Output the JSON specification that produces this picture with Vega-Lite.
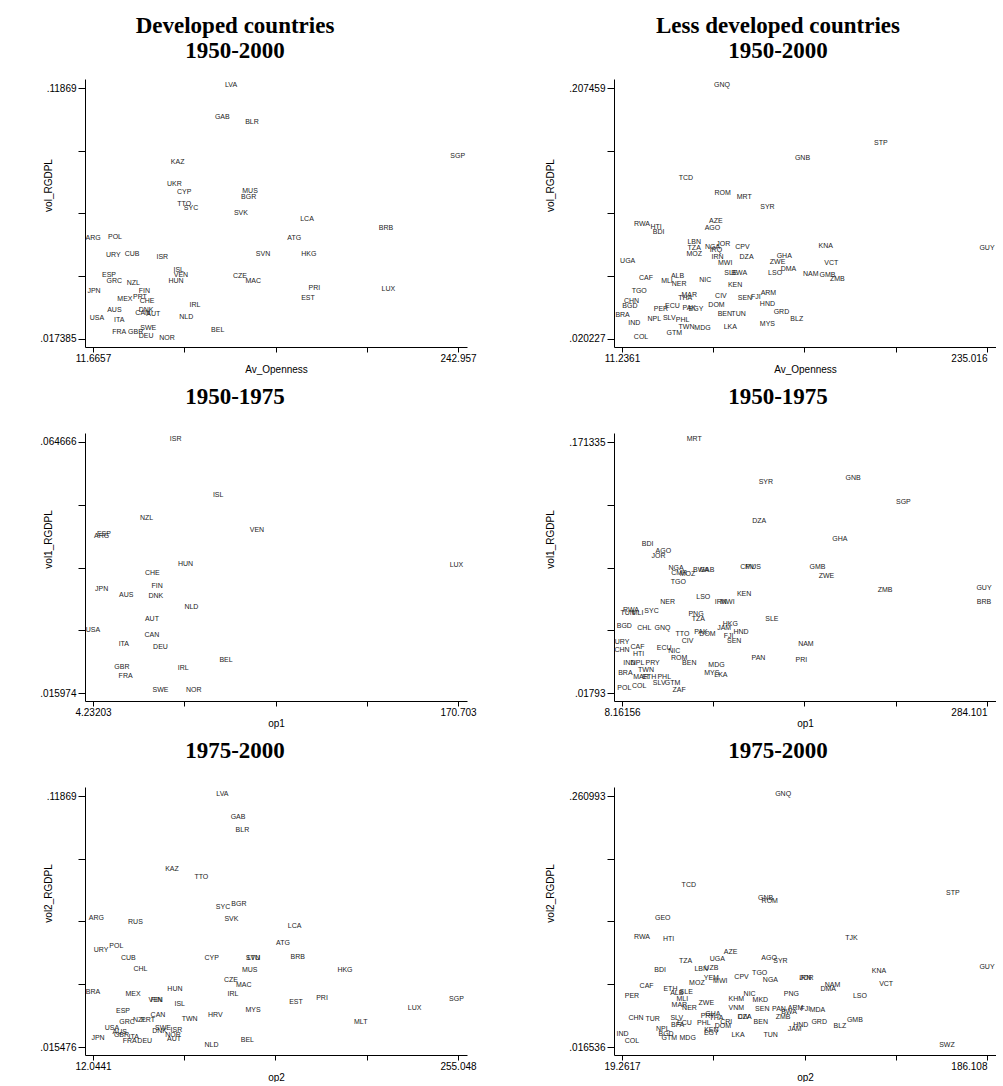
{
"$schema": "https://vega.github.io/schema/vega-lite/v6.json",
"background": "white",
"padding": {"left": 39, "top": 15, "right": 0, "bottom": 0},
"bounds": "flush",
"columns": 2,
"spacing": {"row": 86, "column": 147},
"config": {
  "view": {"stroke": null},
  "font": "Liberation Sans",
  "axis": {"domainColor": "#000", "tickColor": "#000", "labelColor": "#000", "titleColor": "#000", "labelFont": "Liberation Sans", "titleFont": "Liberation Sans", "labelFontSize": 10, "titleFontSize": 10, "titleFontWeight": "normal", "grid": false, "labelOverlap": false, "domainWidth": 1, "tickWidth": 1},
  "axisX": {"tickSize": 5, "labelPadding": 1, "titleY": 22, "titleBaseline": "middle"},
  "axisY": {"tickSize": 7, "labelPadding": 2, "labelAngle": 0, "titleX": -37, "titleY": 106, "titleBaseline": "middle", "titleAngle": -90},
  "title": {"font": "Liberation Serif", "fontSize": 23, "fontWeight": "bold", "color": "#000", "anchor": "middle", "frame": "group", "offset": 24, "lineHeight": 25},
  "text": {"font": "Liberation Sans", "fontSize": 7, "color": "#222", "baseline": "middle", "align": "center"}
},
"datasets": {
"p1": [
{"c":"LVA","x":99.1,"y":0.1200},{"c":"GAB","x":93.6,"y":0.1070},{"c":"BLR","x":112.4,"y":0.1050},{"c":"KAZ","x":65.3,"y":0.0887},{"c":"UKR","x":63.2,"y":0.0799},{"c":"CYP","x":69.5,"y":0.0769},{"c":"MUS","x":111.2,"y":0.0773},{"c":"BGR","x":110.3,"y":0.0745},{"c":"TTO","x":69.5,"y":0.0718},{"c":"SYC","x":73.8,"y":0.0704},{"c":"SVK","x":105.4,"y":0.0684},{"c":"ARG","x":11.7,"y":0.0582},{"c":"POL","x":25.6,"y":0.0586},{"c":"URY","x":24.5,"y":0.0512},{"c":"CUB","x":36.4,"y":0.0516},{"c":"ISR","x":55.6,"y":0.0505},{"c":"SVN","x":119.4,"y":0.0516},{"c":"ISL","x":66.0,"y":0.0453},{"c":"VEN","x":67.4,"y":0.0433},{"c":"HUN","x":64.3,"y":0.0409},{"c":"ESP","x":21.8,"y":0.0431},{"c":"GRC","x":25.2,"y":0.0407},{"c":"NZL","x":37.2,"y":0.0400},{"c":"CZE","x":104.8,"y":0.0429},{"c":"MAC","x":113.2,"y":0.0407},{"c":"JPN","x":12.3,"y":0.0366},{"c":"FIN","x":44.2,"y":0.0368},{"c":"MEX","x":31.9,"y":0.0337},{"c":"PRT","x":41.4,"y":0.0344},{"c":"CHE","x":45.9,"y":0.0326},{"c":"IRL","x":76.3,"y":0.0313},{"c":"AUS","x":25.2,"y":0.0289},{"c":"DNK","x":45.3,"y":0.0291},{"c":"CAN","x":43.2,"y":0.0277},{"c":"AUT","x":49.9,"y":0.0274},{"c":"USA","x":14.2,"y":0.0258},{"c":"ITA","x":28.3,"y":0.0252},{"c":"NLD","x":70.8,"y":0.0262},{"c":"FRA","x":28.3,"y":0.0202},{"c":"GBR","x":38.7,"y":0.0202},{"c":"SWE","x":46.7,"y":0.0217},{"c":"DEU","x":45.3,"y":0.0186},{"c":"NOR","x":58.6,"y":0.0179},{"c":"BEL","x":90.7,"y":0.0212},{"c":"SGP","x":242.8,"y":0.0913},{"c":"LCA","x":147.3,"y":0.0658},{"c":"BRB","x":197.3,"y":0.0623},{"c":"ATG","x":139.2,"y":0.0581},{"c":"HKG","x":148.4,"y":0.0516},{"c":"PRI","x":151.9,"y":0.0380},{"c":"LUX","x":198.8,"y":0.0376},{"c":"EST","x":147.9,"y":0.0339}
],
"p2": [
{"c":"GNQ","x":72.5,"y":0.2099},{"c":"TCD","x":50.4,"y":0.1403},{"c":"ROM","x":72.9,"y":0.1290},{"c":"MRT","x":86.2,"y":0.1265},{"c":"SYR","x":100.4,"y":0.1190},{"c":"AZE","x":68.8,"y":0.1084},{"c":"AGO","x":66.7,"y":0.1027},{"c":"RWA","x":23.5,"y":0.1057},{"c":"HTI","x":32.1,"y":0.1035},{"c":"BDI","x":33.7,"y":0.0999},{"c":"LBN","x":55.5,"y":0.0926},{"c":"TZA","x":55.5,"y":0.0884},{"c":"MOZ","x":55.5,"y":0.0834},{"c":"NGA","x":66.7,"y":0.0889},{"c":"JOR","x":73.3,"y":0.0909},{"c":"IRQ","x":68.8,"y":0.0869},{"c":"CPV","x":85.1,"y":0.0889},{"c":"IRN","x":69.8,"y":0.0814},{"c":"DZA","x":87.6,"y":0.0814},{"c":"MWI","x":74.5,"y":0.0768},{"c":"UGA","x":14.7,"y":0.0784},{"c":"CAF","x":25.9,"y":0.0656},{"c":"ALB","x":45.3,"y":0.0669},{"c":"MLI","x":38.8,"y":0.0638},{"c":"NER","x":46.3,"y":0.0614},{"c":"NIC","x":62.3,"y":0.0644},{"c":"SLE","x":78.0,"y":0.0693},{"c":"BWA","x":83.1,"y":0.0693},{"c":"KEN","x":80.6,"y":0.0606},{"c":"TGO","x":21.8,"y":0.0563},{"c":"MAR","x":52.5,"y":0.0531},{"c":"THA","x":50.0,"y":0.0505},{"c":"CIV","x":71.9,"y":0.0520},{"c":"SEN","x":86.6,"y":0.0505},{"c":"FJI","x":93.3,"y":0.0513},{"c":"ARM","x":101.0,"y":0.0548},{"c":"HND","x":100.4,"y":0.0463},{"c":"CHN","x":17.1,"y":0.0488},{"c":"BGD","x":16.1,"y":0.0450},{"c":"BRA","x":11.6,"y":0.0381},{"c":"IND","x":18.8,"y":0.0325},{"c":"NPL","x":31.0,"y":0.0355},{"c":"ECU","x":42.2,"y":0.0450},{"c":"PER","x":35.1,"y":0.0426},{"c":"PAK","x":52.5,"y":0.0433},{"c":"EGY","x":56.6,"y":0.0426},{"c":"SLV","x":40.2,"y":0.0362},{"c":"PHL","x":48.4,"y":0.0345},{"c":"TWN","x":50.8,"y":0.0293},{"c":"MDG","x":60.6,"y":0.0287},{"c":"DOM","x":69.2,"y":0.0456},{"c":"BEN","x":74.3,"y":0.0388},{"c":"TUN","x":82.7,"y":0.0388},{"c":"LKA","x":77.6,"y":0.0293},{"c":"MYS","x":100.4,"y":0.0313},{"c":"GTM","x":43.3,"y":0.0245},{"c":"COL","x":22.9,"y":0.0217},{"c":"STP","x":169.9,"y":0.1666},{"c":"GNB","x":121.9,"y":0.1553},{"c":"KNA","x":136.2,"y":0.0896},{"c":"GHA","x":110.7,"y":0.0821},{"c":"ZWE","x":106.6,"y":0.0776},{"c":"VCT","x":139.6,"y":0.0768},{"c":"DMA","x":113.3,"y":0.0721},{"c":"LSO","x":105.1,"y":0.0693},{"c":"NAM","x":127.0,"y":0.0686},{"c":"GMB","x":137.2,"y":0.0676},{"c":"ZMB","x":143.3,"y":0.0651},{"c":"GRD","x":109.0,"y":0.0400},{"c":"BLZ","x":118.4,"y":0.0355},{"c":"GUY","x":235.0,"y":0.0879}
],
"p3": [
{"c":"ISR","x":41.9,"y":0.0652},{"c":"ISL","x":61.3,"y":0.0544},{"c":"NZL","x":28.7,"y":0.0499},{"c":"ESP","x":9.2,"y":0.0469},{"c":"ARG","x":8.2,"y":0.0464},{"c":"VEN","x":79.0,"y":0.0476},{"c":"HUN","x":46.4,"y":0.0410},{"c":"LUX","x":170.0,"y":0.0408},{"c":"CHE","x":31.3,"y":0.0392},{"c":"FIN","x":33.5,"y":0.0368},{"c":"JPN","x":8.2,"y":0.0361},{"c":"AUS","x":19.4,"y":0.0349},{"c":"DNK","x":32.9,"y":0.0348},{"c":"NLD","x":49.1,"y":0.0326},{"c":"AUT","x":31.1,"y":0.0304},{"c":"USA","x":4.23,"y":0.0281},{"c":"CAN","x":31.1,"y":0.0272},{"c":"ITA","x":18.3,"y":0.0255},{"c":"DEU","x":35.0,"y":0.0249},{"c":"BEL","x":64.9,"y":0.0224},{"c":"GBR","x":17.4,"y":0.0211},{"c":"IRL","x":45.4,"y":0.0208},{"c":"FRA","x":19.1,"y":0.0192},{"c":"SWE","x":35.0,"y":0.0166},{"c":"NOR","x":50.2,"y":0.0166}
],
"p4": [
{"c":"MRT","x":62.8,"y":0.1734},{"c":"BDI","x":27.5,"y":0.1089},{"c":"AGO","x":39.4,"y":0.1046},{"c":"JOR","x":35.8,"y":0.1018},{"c":"DZA","x":111.9,"y":0.1232},{"c":"NGA","x":49.0,"y":0.0942},{"c":"CMR","x":51.4,"y":0.0911},{"c":"MOZ","x":57.7,"y":0.0907},{"c":"BWA","x":67.8,"y":0.0929},{"c":"GAB","x":72.4,"y":0.0934},{"c":"TGO","x":50.7,"y":0.0860},{"c":"CPV","x":103.0,"y":0.0948},{"c":"MUS","x":107.3,"y":0.0948},{"c":"KEN","x":100.5,"y":0.0782},{"c":"LSO","x":69.6,"y":0.0768},{"c":"IRN","x":82.9,"y":0.0737},{"c":"MWI","x":87.9,"y":0.0737},{"c":"NER","x":42.6,"y":0.0733},{"c":"RWA","x":15.0,"y":0.0686},{"c":"SYC","x":30.5,"y":0.0682},{"c":"TUN","x":12.4,"y":0.0666},{"c":"MLI","x":19.9,"y":0.0666},{"c":"PNG","x":64.1,"y":0.0661},{"c":"TZA","x":65.8,"y":0.0631},{"c":"SLE","x":121.5,"y":0.0632},{"c":"BGD","x":9.9,"y":0.0590},{"c":"CHL","x":25.0,"y":0.0577},{"c":"GNQ","x":38.8,"y":0.0577},{"c":"HKG","x":90.0,"y":0.0598},{"c":"JAM","x":85.4,"y":0.0577},{"c":"HND","x":98.1,"y":0.0553},{"c":"FJI","x":88.7,"y":0.0528},{"c":"SEN","x":93.0,"y":0.0497},{"c":"TTO","x":53.9,"y":0.0539},{"c":"PAK","x":67.8,"y":0.0553},{"c":"DOM","x":72.8,"y":0.0539},{"c":"CIV","x":57.7,"y":0.0496},{"c":"URY","x":8.2,"y":0.0488},{"c":"CAF","x":19.9,"y":0.0461},{"c":"CHN","x":8.2,"y":0.0445},{"c":"HTI","x":20.7,"y":0.0420},{"c":"ECU","x":40.1,"y":0.0457},{"c":"NIC","x":47.7,"y":0.0436},{"c":"ROM","x":51.4,"y":0.0393},{"c":"BEN","x":59.0,"y":0.0365},{"c":"PAN","x":111.3,"y":0.0393},{"c":"IND","x":13.7,"y":0.0365},{"c":"NPL","x":19.9,"y":0.0365},{"c":"PRY","x":31.3,"y":0.0365},{"c":"MDG","x":79.6,"y":0.0353},{"c":"TWN","x":26.3,"y":0.0318},{"c":"BRA","x":10.7,"y":0.0301},{"c":"MAR","x":22.5,"y":0.0276},{"c":"ETH","x":28.8,"y":0.0276},{"c":"MYS","x":76.1,"y":0.0301},{"c":"LKA","x":82.9,"y":0.0291},{"c":"PHL","x":40.1,"y":0.0276},{"c":"SLV","x":36.3,"y":0.0240},{"c":"GTM","x":46.4,"y":0.0242},{"c":"POL","x":9.9,"y":0.0211},{"c":"COL","x":21.2,"y":0.0221},{"c":"ZAF","x":51.4,"y":0.0195},{"c":"SYR","x":116.9,"y":0.1468},{"c":"GNB","x":182.9,"y":0.1495},{"c":"SGP","x":220.9,"y":0.1347},{"c":"GHA","x":172.8,"y":0.1120},{"c":"GMB","x":155.9,"y":0.0952},{"c":"ZWE","x":162.7,"y":0.0897},{"c":"ZMB","x":207.1,"y":0.0807},{"c":"BRB","x":281.8,"y":0.0735},{"c":"GUY","x":281.8,"y":0.0821},{"c":"NAM","x":147.2,"y":0.0481},{"c":"PRI","x":143.8,"y":0.0383}
],
"p5": [
{"c":"LVA","x":98.2,"y":0.1194},{"c":"GAB","x":108.6,"y":0.1102},{"c":"BLR","x":111.5,"y":0.1046},{"c":"KAZ","x":64.6,"y":0.0886},{"c":"TTO","x":84.2,"y":0.0852},{"c":"SYC","x":98.6,"y":0.0729},{"c":"BGR","x":109.2,"y":0.0743},{"c":"ARG","x":14.3,"y":0.0684},{"c":"RUS","x":40.3,"y":0.0667},{"c":"SVK","x":104.2,"y":0.0681},{"c":"LCA","x":146.3,"y":0.0654},{"c":"ATG","x":138.5,"y":0.0581},{"c":"URY","x":17.4,"y":0.0553},{"c":"POL","x":27.6,"y":0.0569},{"c":"CUB","x":35.6,"y":0.0520},{"c":"CYP","x":91.1,"y":0.0520},{"c":"SVN","x":118.6,"y":0.0520},{"c":"LTU","x":119.0,"y":0.0522},{"c":"BRB","x":148.3,"y":0.0524},{"c":"CHL","x":43.6,"y":0.0476},{"c":"MUS","x":116.4,"y":0.0472},{"c":"HKG","x":179.8,"y":0.0472},{"c":"CZE","x":103.9,"y":0.0431},{"c":"MAC","x":112.4,"y":0.0409},{"c":"HUN","x":66.6,"y":0.0394},{"c":"BRA","x":12.0,"y":0.0380},{"c":"MEX","x":38.7,"y":0.0372},{"c":"VEN","x":53.8,"y":0.0350},{"c":"FIN","x":54.2,"y":0.0350},{"c":"IRL","x":105.3,"y":0.0374},{"c":"ISL","x":69.8,"y":0.0333},{"c":"EST","x":147.2,"y":0.0339},{"c":"PRI","x":164.5,"y":0.0357},{"c":"SGP","x":254.0,"y":0.0353},{"c":"ESP","x":32.0,"y":0.0302},{"c":"MYS","x":118.6,"y":0.0305},{"c":"LUX","x":226.2,"y":0.0315},{"c":"HRV","x":93.5,"y":0.0288},{"c":"TWN","x":76.4,"y":0.0271},{"c":"CAN","x":55.3,"y":0.0285},{"c":"NZL","x":43.1,"y":0.0267},{"c":"PRT","x":48.7,"y":0.0267},{"c":"GRC","x":34.7,"y":0.0257},{"c":"MLT","x":190.3,"y":0.0257},{"c":"USA","x":24.7,"y":0.0234},{"c":"AUS","x":29.8,"y":0.0216},{"c":"GBR","x":31.0,"y":0.0203},{"c":"ISR","x":67.6,"y":0.0226},{"c":"SWE","x":58.6,"y":0.0233},{"c":"DNK","x":56.4,"y":0.0220},{"c":"NOR","x":65.3,"y":0.0203},{"c":"AUT","x":66.0,"y":0.0186},{"c":"JPN","x":15.4,"y":0.0192},{"c":"ITA","x":39.1,"y":0.0196},{"c":"FRA","x":36.5,"y":0.0178},{"c":"DEU","x":46.5,"y":0.0178},{"c":"NLD","x":90.9,"y":0.0165},{"c":"BEL","x":114.8,"y":0.0185}
],
"p6": [
{"c":"GNQ","x":92.9,"y":0.2626},{"c":"TCD","x":49.8,"y":0.1748},{"c":"GEO","x":37.9,"y":0.1418},{"c":"RWA","x":28.4,"y":0.1234},{"c":"HTI","x":40.6,"y":0.1214},{"c":"AZE","x":68.9,"y":0.1095},{"c":"TZA","x":48.3,"y":0.1007},{"c":"UGA","x":62.8,"y":0.1024},{"c":"BDI","x":36.7,"y":0.0917},{"c":"LBN","x":55.5,"y":0.0927},{"c":"UZB","x":60.1,"y":0.0933},{"c":"YEM","x":60.1,"y":0.0836},{"c":"MWI","x":64.2,"y":0.0813},{"c":"CPV","x":73.9,"y":0.0845},{"c":"MOZ","x":53.5,"y":0.0791},{"c":"CAF","x":30.5,"y":0.0758},{"c":"PER","x":23.8,"y":0.0665},{"c":"ETH","x":41.4,"y":0.0733},{"c":"ALB","x":44.3,"y":0.0694},{"c":"SLE","x":48.6,"y":0.0700},{"c":"MLI","x":46.8,"y":0.0635},{"c":"MAR","x":45.5,"y":0.0570},{"c":"NER","x":50.1,"y":0.0548},{"c":"ZWE","x":57.8,"y":0.0597},{"c":"KHM","x":71.5,"y":0.0635},{"c":"VNM","x":71.5,"y":0.0548},{"c":"CHN","x":25.7,"y":0.0451},{"c":"TUR","x":33.3,"y":0.0441},{"c":"SLV","x":44.3,"y":0.0451},{"c":"GHA","x":60.8,"y":0.0490},{"c":"THA","x":62.4,"y":0.0451},{"c":"PRY","x":58.5,"y":0.0463},{"c":"ECU","x":47.8,"y":0.0402},{"c":"BFA","x":44.7,"y":0.0379},{"c":"PHL","x":56.7,"y":0.0395},{"c":"CRI","x":66.9,"y":0.0408},{"c":"DOM","x":65.4,"y":0.0369},{"c":"KEN","x":60.1,"y":0.0328},{"c":"EGY","x":60.1,"y":0.0301},{"c":"NPL","x":37.9,"y":0.0344},{"c":"BGD","x":39.4,"y":0.0296},{"c":"GTM","x":40.9,"y":0.0257},{"c":"MDG","x":49.3,"y":0.0257},{"c":"LKA","x":72.3,"y":0.0286},{"c":"IND","x":19.5,"y":0.0296},{"c":"COL","x":23.8,"y":0.0228},{"c":"DZA","x":75.3,"y":0.0457},{"c":"CIV","x":74.9,"y":0.0457},{"c":"GNB","x":84.9,"y":0.1612},{"c":"ROM","x":86.8,"y":0.1583},{"c":"STP","x":170.5,"y":0.1665},{"c":"TJK","x":124.2,"y":0.1228},{"c":"AGO","x":86.5,"y":0.1034},{"c":"SYR","x":91.7,"y":0.1001},{"c":"TGO","x":82.2,"y":0.0888},{"c":"NGA","x":87.1,"y":0.0820},{"c":"KNA","x":136.7,"y":0.0901},{"c":"JOR","x":103.6,"y":0.0836},{"c":"IRN","x":103.0,"y":0.0836},{"c":"NAM","x":115.5,"y":0.0771},{"c":"DMA","x":113.5,"y":0.0733},{"c":"VCT","x":140.0,"y":0.0781},{"c":"LSO","x":128.0,"y":0.0665},{"c":"PNG","x":96.7,"y":0.0684},{"c":"NIC","x":77.6,"y":0.0677},{"c":"MKD","x":82.5,"y":0.0619},{"c":"SEN","x":83.4,"y":0.0532},{"c":"PAN","x":91.0,"y":0.0538},{"c":"BWA","x":95.6,"y":0.0505},{"c":"ARM","x":98.6,"y":0.0548},{"c":"FJI","x":103.1,"y":0.0538},{"c":"MDA","x":108.6,"y":0.0529},{"c":"ZMB","x":92.9,"y":0.0457},{"c":"BEN","x":82.7,"y":0.0408},{"c":"GRD","x":109.4,"y":0.0408},{"c":"HND","x":101.0,"y":0.0376},{"c":"JAM","x":98.2,"y":0.0344},{"c":"BLZ","x":118.9,"y":0.0369},{"c":"GMB","x":125.7,"y":0.0431},{"c":"TUN","x":87.2,"y":0.0279},{"c":"SWZ","x":167.8,"y":0.0189},{"c":"GUY","x":186.1,"y":0.0949}
]
},
"concat": [
 {"width": 382, "height": 268, "title": {"text": ["Developed countries", "1950-2000"], "dx": -41, "offset": 16}, "data": {"name": "p1"}, "mark": {"type": "text"},
  "encoding": {
   "x": {"field": "x", "type": "quantitative", "scale": {"domain": [6.5963, 248.6601], "nice": false, "zero": false}, "axis": {"title": "Av_Openness", "values": [11.6657, 69.4885, 127.3114, 185.1342, 242.957], "labelExpr": "datum.index == 0 ? '11.6657' : datum.index == 1 ? '242.957' : ''"}},
   "y": {"field": "y", "type": "quantitative", "scale": {"domain": [0.0141561, 0.1223225], "nice": false, "zero": false}, "axis": {"title": "vol_RGDPL", "values": [0.017385, 0.04271125, 0.0680375, 0.09336375, 0.11869], "labelExpr": "datum.index == 0 ? '.017385' : datum.index == 1 ? '.11869' : ''"}},
   "text": {"field": "c"}}},
 {"width": 382, "height": 268, "title": {"text": ["Less developed countries", "1950-2000"], "dx": -27, "offset": 16}, "data": {"name": "p2"}, "mark": {"type": "text"},
  "encoding": {
   "x": {"field": "x", "type": "quantitative", "scale": {"domain": [6.3313, 240.5339], "nice": false, "zero": false}, "axis": {"title": "Av_Openness", "values": [11.2361, 67.181075, 123.12605, 179.071025, 235.016], "labelExpr": "datum.index == 0 ? '11.2361' : datum.index == 1 ? '235.016' : ''", "labelAlign": {"condition": {"test": "datum.value > 230", "value": "right"}, "value": "center"}}},
   "y": {"field": "y", "type": "quantitative", "scale": {"domain": [0.0142594, 0.2141725], "nice": false, "zero": false}, "axis": {"title": "vol_RGDPL", "titleX": -64, "values": [0.020227, 0.067035, 0.113843, 0.160651, 0.207459], "labelExpr": "datum.index == 0 ? '.020227' : datum.index == 1 ? '.207459' : ''"}},
   "text": {"field": "c"}}},
 {"width": 382, "height": 268, "title": {"text": "1950-1975", "dx": -41}, "data": {"name": "p3"}, "mark": {"type": "text"},
  "encoding": {
   "x": {"field": "x", "type": "quantitative", "scale": {"domain": [0.5833, 174.8078], "nice": false, "zero": false}, "axis": {"title": "op1", "values": [4.23203, 45.8497725, 87.467515, 129.0852575, 170.703], "labelExpr": "datum.index == 0 ? '4.23203' : datum.index == 1 ? '170.703' : ''"}},
   "y": {"field": "y", "type": "quantitative", "scale": {"domain": [0.0144221, 0.0664119], "nice": false, "zero": false}, "axis": {"title": "vol1_RGDPL", "values": [0.015974, 0.028147, 0.04032, 0.052493, 0.064666], "labelExpr": "datum.index == 0 ? '.015974' : datum.index == 1 ? '.064666' : ''"}},
   "text": {"field": "c"}}},
 {"width": 382, "height": 268, "title": {"text": "1950-1975", "dx": -27}, "data": {"name": "p4"}, "mark": {"type": "text"},
  "encoding": {
   "x": {"field": "x", "type": "quantitative", "scale": {"domain": [2.1136, 290.905], "nice": false, "zero": false}, "axis": {"title": "op1", "values": [8.16156, 77.14642, 146.13128, 215.11614, 284.101], "labelExpr": "datum.index == 0 ? '8.16156' : datum.index == 1 ? '284.101' : ''", "labelAlign": {"condition": {"test": "datum.value > 280", "value": "right"}, "value": "center"}}},
   "y": {"field": "y", "type": "quantitative", "scale": {"domain": [0.0130406, 0.1768356], "nice": false, "zero": false}, "axis": {"title": "vol1_RGDPL", "titleX": -64, "values": [0.01793, 0.05628125, 0.0946325, 0.13298375, 0.171335], "labelExpr": "datum.index == 0 ? '.01793' : datum.index == 1 ? '.171335' : ''"}},
   "text": {"field": "c"}}},
 {"width": 382, "height": 268, "title": {"text": "1975-2000", "dx": -41}, "data": {"name": "p5"}, "mark": {"type": "text"},
  "encoding": {
   "x": {"field": "x", "type": "quantitative", "scale": {"domain": [6.718, 261.0399], "nice": false, "zero": false}, "axis": {"title": "op2", "values": [12.0441, 72.795075, 133.54605, 194.297025, 255.048], "labelExpr": "datum.index == 0 ? '12.0441' : datum.index == 1 ? '255.048' : ''"}},
   "y": {"field": "y", "type": "quantitative", "scale": {"domain": [0.0121863, 0.1223909], "nice": false, "zero": false}, "axis": {"title": "vol2_RGDPL", "values": [0.015476, 0.0412795, 0.067083, 0.0928865, 0.11869], "labelExpr": "datum.index == 0 ? '.015476' : datum.index == 1 ? '.11869' : ''"}},
   "text": {"field": "c"}}},
 {"width": 382, "height": 268, "title": {"text": "1975-2000", "dx": -27}, "data": {"name": "p6"}, "mark": {"type": "text"},
  "encoding": {
   "x": {"field": "x", "type": "quantitative", "scale": {"domain": [15.6048, 190.222], "nice": false, "zero": false}, "axis": {"title": "op2", "values": [19.2617, 60.973275, 102.68485, 144.396425, 186.108], "labelExpr": "datum.index == 0 ? '19.2617' : datum.index == 1 ? '186.108' : ''", "labelAlign": {"condition": {"test": "datum.value > 180", "value": "right"}, "value": "center"}}},
   "y": {"field": "y", "type": "quantitative", "scale": {"domain": [0.0087445, 0.2697584], "nice": false, "zero": false}, "axis": {"title": "vol2_RGDPL", "titleX": -64, "values": [0.016536, 0.07765025, 0.1387645, 0.19987875, 0.260993], "labelExpr": "datum.index == 0 ? '.016536' : datum.index == 1 ? '.260993' : ''"}},
   "text": {"field": "c"}}}
]
}
